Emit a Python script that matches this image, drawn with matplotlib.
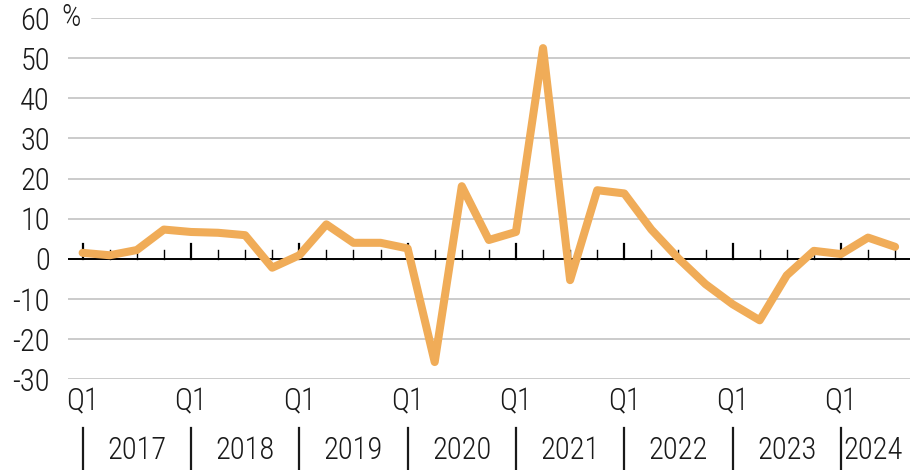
import numpy as np
import matplotlib.pyplot as plt
import matplotlib.transforms as mtransforms

plt.rcParams['font.family'] = ['Roboto Condensed', 'Liberation Sans Narrow', 'Roboto', 'DejaVu Sans']
plt.rcParams['font.weight'] = 'light'
plt.rcParams['axes.unicode_minus'] = False

# quarterly change, 2017 Q1 - 2024 Q3
quarters = ['2017Q1', '2017Q2', '2017Q3', '2017Q4',
            '2018Q1', '2018Q2', '2018Q3', '2018Q4',
            '2019Q1', '2019Q2', '2019Q3', '2019Q4',
            '2020Q1', '2020Q2', '2020Q3', '2020Q4',
            '2021Q1', '2021Q2', '2021Q3', '2021Q4',
            '2022Q1', '2022Q2', '2022Q3', '2022Q4',
            '2023Q1', '2023Q2', '2023Q3', '2023Q4',
            '2024Q1', '2024Q2', '2024Q3']
values = [1.5, 0.9, 2.2, 7.3,
          6.7, 6.5, 5.9, -2.2,
          0.9, 8.6, 4.0, 4.0,
          2.6, -25.7, 18.1, 4.7,
          6.7, 52.5, -5.3, 17.1,
          16.3, 7.3, 0.1, -6.3,
          -11.3, -15.3, -4.1, 2.0,
          1.2, 5.3, 3.0]
years = ['2017', '2018', '2019', '2020', '2021', '2022', '2023', '2024']
yticks = [-30, -20, -10, 0, 10, 20, 30, 40, 50, 60]

x = np.arange(len(values))
q1_pos = [i for i, q in enumerate(quarters) if q.endswith('Q1')]
txt_col = '#1a1a1a'
fs = 22

fig = plt.figure(figsize=(9.24, 4.70), dpi=100)
ax = fig.add_axes([68/924, 1-379.3/470, 842/924, 361.3/470])

ax.set_xlim(-0.54, 30.55)
ax.set_ylim(-30, 60)

# grid
for v in yticks:
    if v == 0:
        continue
    xmin = 0.0285 if v == 60 else 0
    ax.axhline(v, xmin=xmin, color='#bdbdbd', lw=1.1, zorder=1)

ax.plot(x, values, color='#F0AC58', lw=5.8, solid_joinstyle='round',
        solid_capstyle='round', zorder=3)

# zero line with upward ticks
ax.axhline(0, color='black', lw=1.4, zorder=2)
for i in x:
    h = 3.6 if i in q1_pos else 2.3
    ax.plot([i, i], [0, h], color='black', lw=1.6 if i in q1_pos else 1.0, zorder=2)

for s in ax.spines.values():
    s.set_visible(False)
ax.set_xticks([])
ax.set_yticks(yticks)
ax.set_yticklabels([str(v) for v in yticks], fontsize=fs, color=txt_col)
ax.tick_params(axis='y', length=0, pad=13)

trans = mtransforms.blended_transform_factory(ax.transAxes, ax.transData)
ax.text(-0.008, 60, '%', transform=trans, ha='left', va='center', fontsize=fs, color=txt_col)

# x axis labels
tx = mtransforms.blended_transform_factory(ax.transData, ax.transAxes)
for p in q1_pos:
    ax.text(p, -0.063, 'Q1', transform=tx, ha='center', va='center', fontsize=fs, color=txt_col)
    ax.plot([p, p], [-0.135, -0.26], transform=tx, color=txt_col, lw=1.6, clip_on=False)
for j, yr in enumerate(years):
    p = q1_pos[j]
    if yr == '2024':
        ax.text(p + 0.1, -0.196, yr, transform=tx, ha='left', va='center', fontsize=fs, color=txt_col)
    else:
        ax.text(p + 2, -0.196, yr, transform=tx, ha='center', va='center', fontsize=fs, color=txt_col)

plt.savefig('out.png', dpi=100)
